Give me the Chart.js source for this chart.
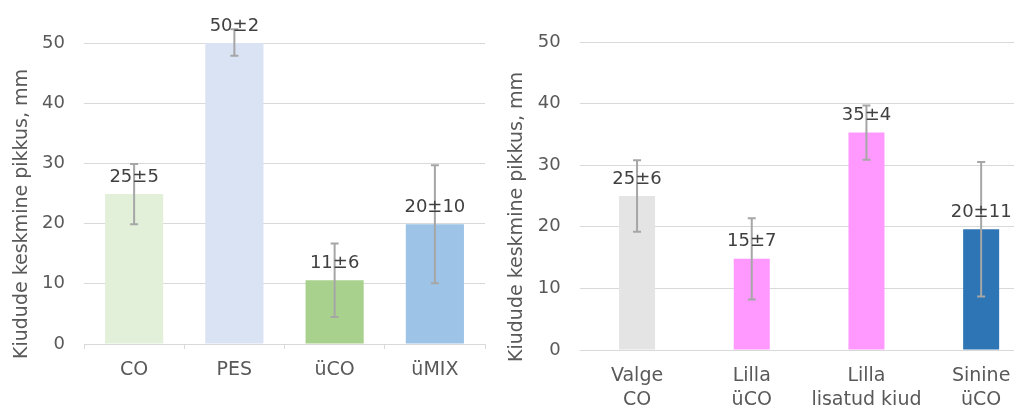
<!DOCTYPE html>
<html>
<head>
<meta charset="utf-8">
<script src="https://cdn.jsdelivr.net/npm/chart.js@4.4.1/dist/chart.umd.min.js"></script>
<style>
    html, body { margin: 0; padding: 0; background: #fff; overflow: hidden; }
    body { width: 1014px; height: 407px; position: relative; }
    canvas { position: absolute; top: 0; }
    #chart-left { left: 0; }
    #chart-right { left: 500px; }
</style>
</head>
<body>
<canvas id="chart-left" width="500" height="407"></canvas>
<canvas id="chart-right" width="560" height="407"></canvas>
<script>
// =============================
// FIBRE LENGTH DATA
// =============================
const axisTitle = 'Kiudude keskmine pikkus, mm';
const yTicksMax = 50;
const yTickStep = 10;

const leftCategories = ['CO', 'PES', 'üCO', 'üMIX'];
const leftMeans = [24.9, 50.1, 10.6, 19.9];
const leftErrors = [5.0, 2.2, 6.1, 9.8];
const leftColors = ['#e2f0d9', '#dae3f3', '#a9d18e', '#9dc3e6'];

const rightCategories = [['Valge', 'CO'], ['Lilla', 'üCO'], ['Lilla', 'lisatud kiud'], ['Sinine', 'üCO']];
const rightMeans = [25.0, 14.8, 35.3, 19.6];
const rightErrors = [5.8, 6.6, 4.4, 10.9];
const rightColors = ['#e4e4e4', '#ff99ff', '#ff99ff', '#2e75b6'];

const FONT = "'DejaVu Sans', Verdana, sans-serif";
const textColor = '#595959';
const labelColor = '#404040';
const gridColor = '#d9d9d9';
const errColor = '#a6a6a6';

// error bars + "mean±sd" labels, drawn from the bar elements and y scale
const errorBarsPlugin = {
    id: 'errorBars',
    afterDatasetsDraw(chart, args, opts) {
        const ctx = chart.ctx;
        const yScale = chart.scales.y;
        const meta = chart.getDatasetMeta(0);
        const means = chart.data.datasets[0].data;
        const errs = opts.errors;

        ctx.save();
        meta.data.forEach((bar, i) => {
            const x = bar.x;
            const yTop = yScale.getPixelForValue(means[i] + errs[i]);
            const yBot = yScale.getPixelForValue(means[i] - errs[i]);
            ctx.strokeStyle = errColor;
            ctx.lineWidth = 2;
            ctx.beginPath();
            ctx.moveTo(x, yTop);
            ctx.lineTo(x, yBot);
            ctx.moveTo(x - 4, yTop);
            ctx.lineTo(x + 4, yTop);
            ctx.moveTo(x - 4, yBot);
            ctx.lineTo(x + 4, yBot);
            ctx.stroke();
        });

        ctx.font = `18px ${FONT}`;
        ctx.fillStyle = labelColor;
        ctx.textAlign = 'center';
        ctx.textBaseline = 'alphabetic';
        meta.data.forEach((bar, i) => {
            const text = Math.round(means[i]) + '±' + Math.round(errs[i]);
            const yBar = yScale.getPixelForValue(Math.min(means[i], yTicksMax));
            ctx.fillText(text, bar.x, yBar - 12.5);
        });
        ctx.restore();
    }
};

// rotated y-axis title
const axisTitlePlugin = {
    id: 'axisTitle',
    afterDraw(chart, args, opts) {
        const ctx = chart.ctx;
        ctx.save();
        ctx.translate(opts.x, opts.y);
        ctx.rotate(-Math.PI / 2);
        ctx.font = `19px ${FONT}`;
        ctx.fillStyle = textColor;
        ctx.textAlign = 'center';
        ctx.textBaseline = 'alphabetic';
        ctx.fillText(axisTitle, 0, 0);
        ctx.restore();
    }
};

const whiteBg = {
    id: 'whiteBg',
    beforeDraw(chart) {
        const ctx = chart.ctx;
        ctx.save();
        ctx.fillStyle = '#fff';
        ctx.fillRect(0, 0, chart.width, chart.height);
        ctx.restore();
    }
};

function buildChart(canvasId, cfg) {
    const ctx = document.getElementById(canvasId).getContext('2d');
    return new Chart(ctx, {
        type: 'bar',
        data: {
            labels: cfg.categories,
            datasets: [{
                data: cfg.means,
                backgroundColor: cfg.colors,
                borderWidth: 0,
                inflateAmount: 0,
                categoryPercentage: 1,
                barPercentage: cfg.barPct
            }]
        },
        options: {
            responsive: false,
            devicePixelRatio: 1,
            animation: false,
            layout: { padding: cfg.padding },
            scales: {
                x: {
                    afterFit: (s) => { s.height = cfg.xHeight; },
                    grid: cfg.xGrid,
                    border: cfg.xBorder,
                    ticks: {
                        color: textColor,
                        padding: cfg.xPad,
                        maxRotation: 0,
                        autoSkip: false,
                        font: { family: FONT, size: 19, lineHeight: 1.25 }
                    }
                },
                y: {
                    min: 0,
                    max: yTicksMax,
                    afterFit: (s) => { s.width = cfg.yWidth; },
                    border: { display: false },
                    grid: { color: gridColor, lineWidth: 1, drawTicks: false },
                    ticks: {
                        stepSize: yTickStep,
                        color: textColor,
                        padding: 19,
                        font: { family: FONT, size: 18 }
                    }
                }
            },
            plugins: {
                legend: { display: false },
                tooltip: { enabled: false },
                errorBars: { errors: cfg.errors },
                axisTitle: cfg.title
            }
        },
        plugins: [whiteBg, errorBarsPlugin, axisTitlePlugin]
    });
}

document.addEventListener('DOMContentLoaded', () => {
    buildChart('chart-left', {
        categories: leftCategories,
        means: leftMeans,
        errors: leftErrors,
        colors: leftColors,
        barPct: 0.58,
        padding: { top: 43, right: 15, bottom: 0, left: 0 },
        xHeight: 63,
        yWidth: 84,
        xPad: 9,
        xGrid: { drawOnChartArea: false, drawTicks: true, tickLength: 5, color: gridColor },
        xBorder: { display: true, color: gridColor, width: 1 },
        title: { x: 26.5, y: 214 }
    });

    buildChart('chart-right', {
        categories: rightCategories,
        means: rightMeans,
        errors: rightErrors,
        colors: rightColors,
        barPct: 0.314,
        padding: { top: 42, right: 21.5, bottom: 0, left: 0 },
        xHeight: 57,
        yWidth: 79.7,
        xPad: 14,
        xGrid: { display: false, drawTicks: false },
        xBorder: { display: false },
        title: { x: 21.7, y: 217 }
    });
});
</script>
</body>
</html>
